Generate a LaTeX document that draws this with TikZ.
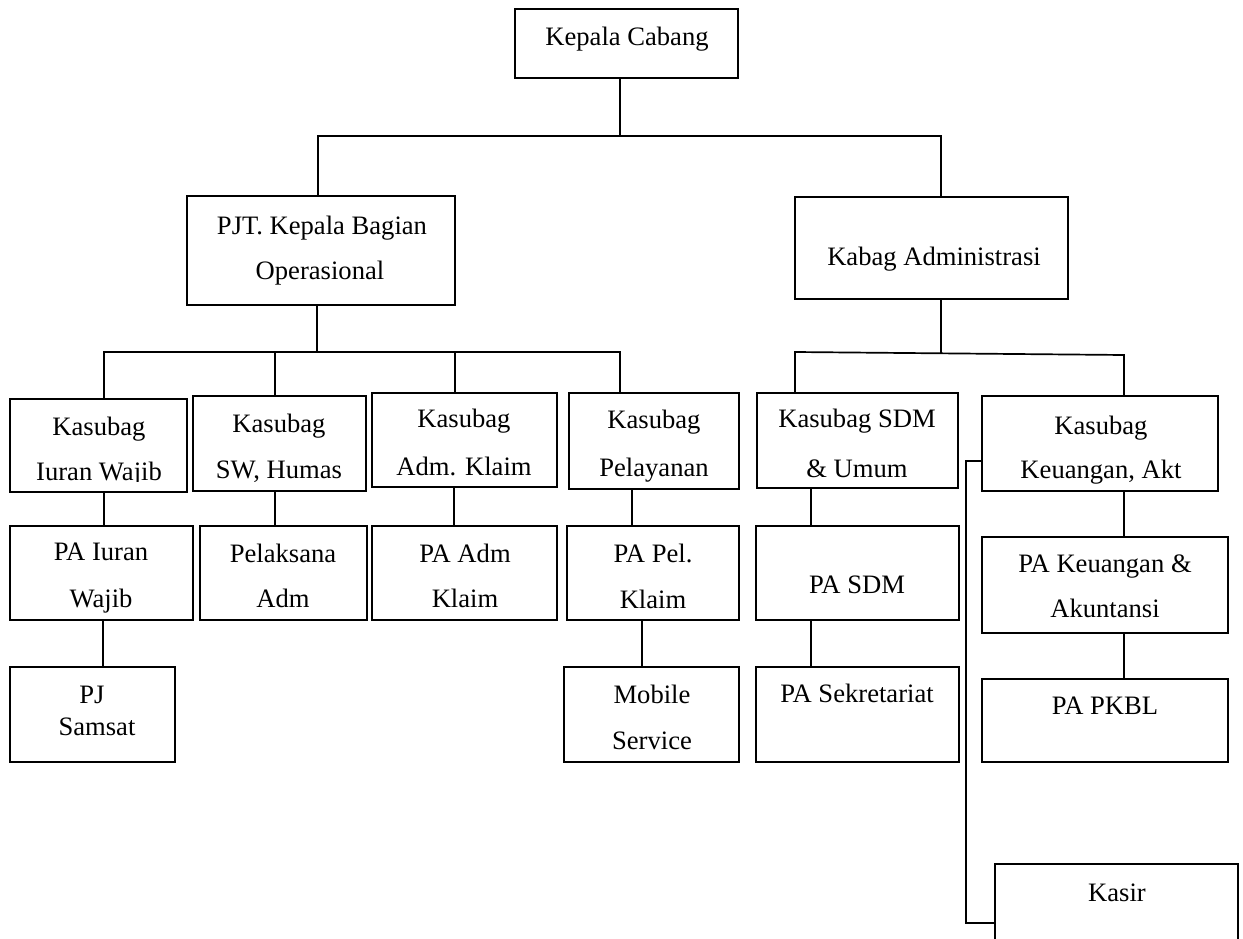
\documentclass[tikz,border=0pt]{standalone}
\usepackage{fontspec}
\setmainfont{Liberation Serif}
\newcommand\orgbox[5]{\node[box, minimum width={(#4-#2)*1pt}, minimum height={(#5-#3)*1pt}] (#1) at ({(#2+#4)/2},{(#3+#5)/2}) {};}
\begin{document}
\begin{tikzpicture}[x=1pt,y=-1pt,
  box/.style={draw, line width=2pt, inner sep=0pt, outer sep=0pt, fill=white},
  lbl/.style={font=\fontsize{26.6}{32}\selectfont, inner sep=0pt, anchor=base, yshift=-9pt},
  conn/.style={line width=1.7pt}]
\useasboundingbox (0,0) rectangle (1243,939);
\clip (0,0) rectangle (1243,939);
% boxes
\orgbox{kc}{515}{9}{738}{78}
\orgbox{pjt}{187}{196}{455}{305}
\orgbox{kabag}{795}{197}{1068}{299}
\orgbox{ks1}{10}{399}{187}{492}
\orgbox{ks2}{193}{396}{366}{491}
\orgbox{ks3}{372}{393}{557}{487}
\orgbox{ks4}{569}{393}{739}{489}
\orgbox{ks5}{757}{393}{958}{488}
\orgbox{ks6}{982}{396}{1218}{491}
\orgbox{pa1}{10}{526}{193}{620}
\orgbox{pa2}{200}{526}{367}{620}
\orgbox{pa3}{372}{526}{557}{620}
\orgbox{pa4}{567}{526}{739}{620}
\orgbox{pa5}{756}{526}{959}{620}
\orgbox{pa6}{982}{537}{1228}{633}
\orgbox{ra}{10}{667}{175}{762}
\orgbox{rb}{564}{667}{739}{762}
\orgbox{rc}{756}{667}{959}{762}
\orgbox{rd}{982}{679}{1228}{762}
\orgbox{kasir}{995}{864}{1238}{962}
% texts
\node[lbl] (tkc) at (627,37) {Kepala Cabang};
\node[lbl] (tpjt1) at (322,225) {PJT. Kepala Bagian};
\node[lbl] (tpjt2) at (320,270) {Operasional};
\node[lbl] (tkab) at (934,256) {Kabag Administrasi};
\node[lbl] (tks1a) at (99,426) {Kasubag};
\begin{scope}
\clip (0,0) rectangle (1243,481);
\node[lbl] (tks1b) at (99,471) {Iuran Wajib};
\end{scope}
\node[lbl] (tks2a) at (279,423) {Kasubag};
\node[lbl] (tks2b) at (279,469) {SW, Humas};
\node[lbl] (tks3a) at (464,418) {Kasubag};
\node[lbl] (tks3b) at (464,466) {Adm. Klaim};
\node[lbl] (tks4a) at (654,419) {Kasubag};
\node[lbl] (tks4b) at (654,467) {Pelayanan};
\node[lbl] (tks5a) at (857,418) {Kasubag SDM};
\node[lbl] (tks5b) at (857,468) {\& Umum};
\node[lbl] (tks6a) at (1101,425) {Kasubag};
\node[lbl] (tks6b) at (1101,469) {Keuangan, Akt};
\node[lbl] (tpa1a) at (101,551) {PA Iuran};
\node[lbl] (tpa1b) at (101,598) {Wajib};
\node[lbl] (tpa2a) at (283,553) {Pelaksana};
\node[lbl] (tpa2b) at (283,598) {Adm};
\node[lbl] (tpa3a) at (465,553) {PA Adm};
\node[lbl] (tpa3b) at (465,598) {Klaim};
\node[lbl] (tpa4a) at (653,553) {PA Pel.};
\node[lbl] (tpa4b) at (653,599) {Klaim};
\node[lbl] (tpa5) at (857,584) {PA SDM};
\node[lbl] (tpa6a) at (1105,563) {PA Keuangan \&};
\node[lbl] (tpa6b) at (1105,608) {Akuntansi};
\node[lbl] (tra1) at (92,694) {PJ};
\node[lbl] (tra2) at (97,726) {Samsat};
\node[lbl] (trb1) at (652,694) {Mobile};
\node[lbl] (trb2) at (652,740) {Service};
\node[lbl] (trc) at (857,693) {PA Sekretariat};
\node[lbl] (trd) at (1105,705) {PA PKBL};
\node[lbl] (tkasir) at (1117,892) {Kasir};
% top bus
\coordinate (b0) at (620,136);
\coordinate (jL) at (318,136);
\coordinate (jR) at (941,136);
\draw[conn] (kc.south -| b0) -- (b0);
\draw[conn] (pjt.north -| jL) -- (jL) -- (jR) -- (kabag.north -| jR);
% left bus
\coordinate (p1) at (317,352);
\coordinate (a1) at (104,352);
\coordinate (a2) at (275,352);
\coordinate (a3) at (455,352);
\coordinate (a4) at (620,352);
\draw[conn] (pjt.south -| p1) -- (p1);
\draw[conn] (ks1.north -| a1) -- (a1) -- (a4) -- (ks4.north -| a4);
\draw[conn] (a2) -- (ks2.north -| a2);
\draw[conn] (a3) -- (ks3.north -| a3);
% right bus
\coordinate (q0) at (941,353);
\coordinate (c1) at (795,352);
\coordinate (c2) at (1124,355);
\draw[conn] (kabag.south -| q0) -- (q0);
\draw[conn] (ks5.north -| c1) -- (c1) -- (c2) -- (ks6.north -| c2);
% row connectors
\coordinate (v1) at (104,0);
\coordinate (v2) at (275,0);
\coordinate (v3) at (454,0);
\coordinate (v4) at (632,0);
\coordinate (v5) at (811,0);
\coordinate (v6) at (1124,0);
\coordinate (w1) at (103,0);
\coordinate (w4) at (642,0);
\draw[conn] (ks1.south -| v1) -- (pa1.north -| v1);
\draw[conn] (ks2.south -| v2) -- (pa2.north -| v2);
\draw[conn] (ks3.south -| v3) -- (pa3.north -| v3);
\draw[conn] (ks4.south -| v4) -- (pa4.north -| v4);
\draw[conn] (ks5.south -| v5) -- (pa5.north -| v5);
\draw[conn] (ks6.south -| v6) -- (pa6.north -| v6);
\draw[conn] (pa1.south -| w1) -- (ra.north -| w1);
\draw[conn] (pa4.south -| w4) -- (rb.north -| w4);
\draw[conn] (pa5.south -| v5) -- (rc.north -| v5);
\draw[conn] (pa6.south -| v6) -- (rd.north -| v6);
% kasir
\coordinate (k1) at (966,461);
\coordinate (k2) at (966,923);
\draw[conn] (ks6.west |- k1) -- (k1) -- (k2) -- (kasir.west |- k2);
\end{tikzpicture}
\end{document}
